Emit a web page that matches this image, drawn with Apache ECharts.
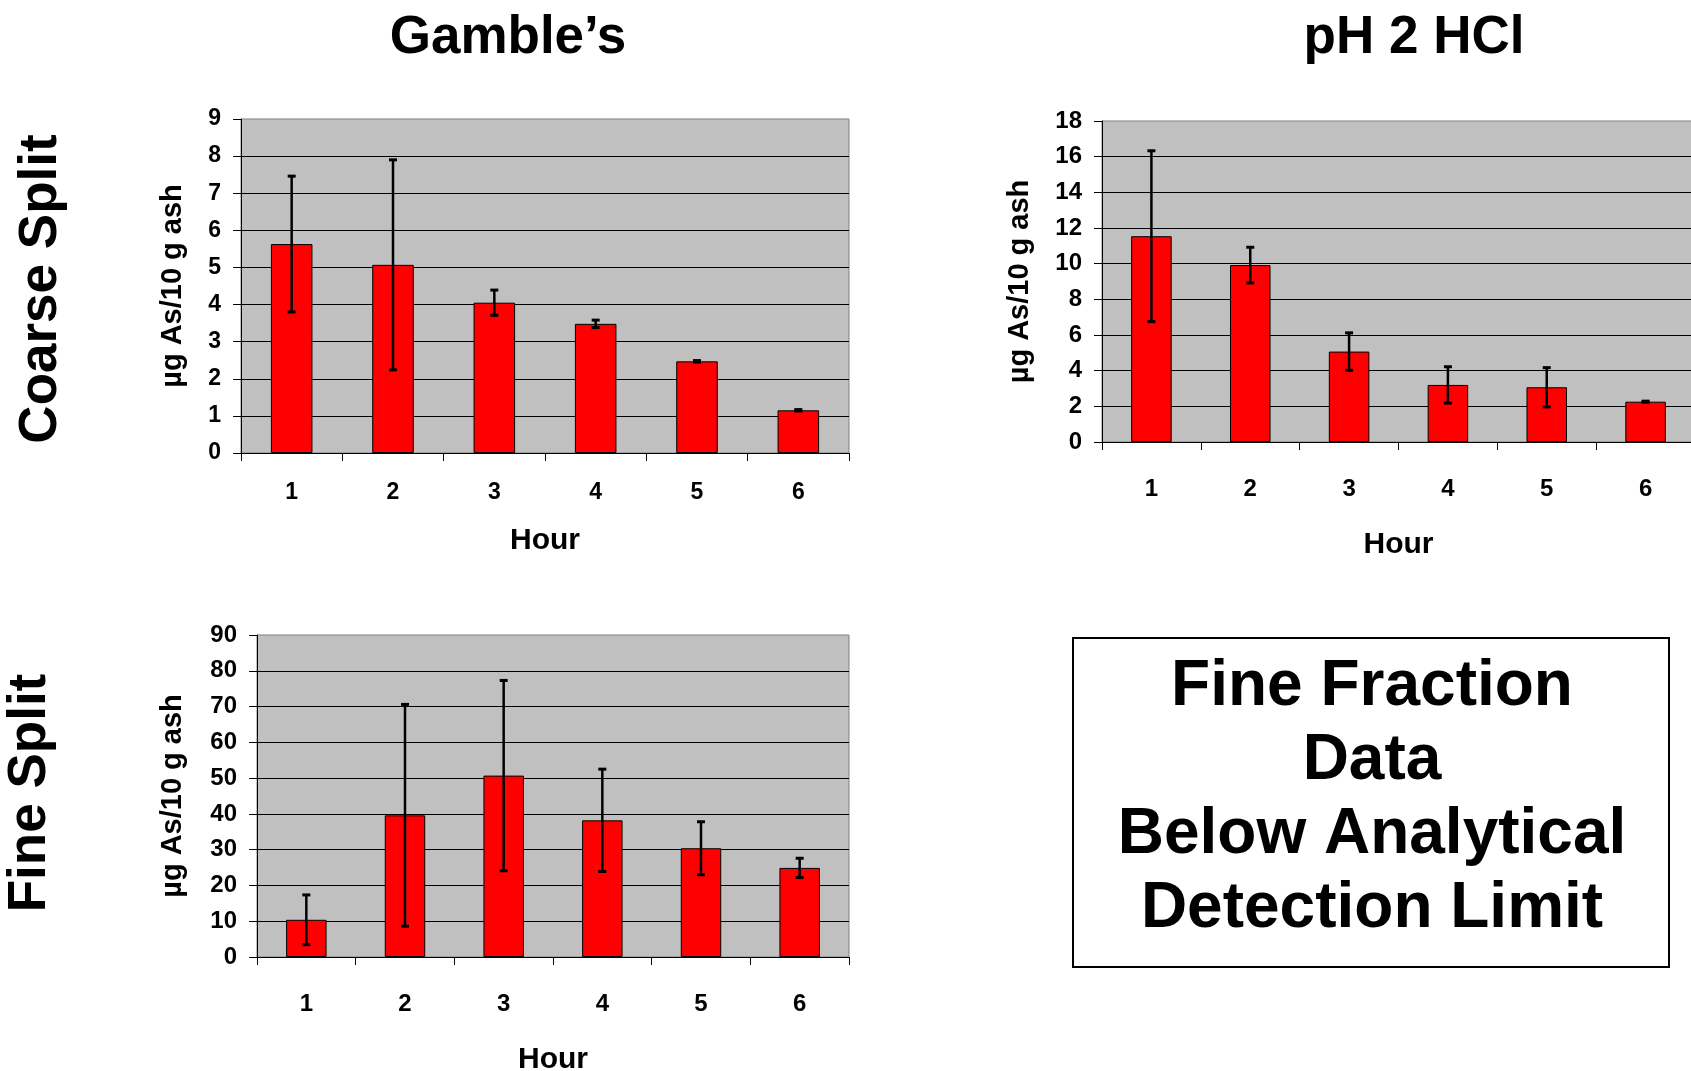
<!DOCTYPE html>
<html>
<head>
<meta charset="utf-8">
<script src="https://cdn.jsdelivr.net/npm/echarts@6/dist/echarts.min.js"></script>
<style>
html,body{margin:0;padding:0;background:#fff;}
#chart{width:1691px;height:1071px;}
</style>
</head>
<body>
<div id="chart"></div>
<script>
// ---- data ----
const hours = ['1', '2', '3', '4', '5', '6'];
const coarseGambleMean = [5.63, 5.07, 4.05, 3.48, 2.47, 1.15];
const coarseGambleErr  = [1.83, 2.83, 0.34, 0.10, 0.02, 0.02];
const coarseHclMean    = [11.54, 9.92, 5.07, 3.20, 3.07, 2.26];
const coarseHclErr     = [4.79, 1.00, 1.05, 1.02, 1.10, 0.03];
const fineGambleMean   = [10.4, 39.6, 50.7, 38.2, 30.4, 24.9];
const fineGambleErr    = [6.95, 31.0, 26.6, 14.3, 7.4, 2.7];
const yMax = [9, 18, 90];
const yStep = [1, 2, 10];
const colTitles = ['Gamble\u2019s', 'pH 2 HCl'];
const rowTitles = ['Coarse Split', 'Fine Split'];
const noteLines = ['Fine Fraction', 'Data', 'Below Analytical', 'Detection Limit'];
const yName = '\u00b5g As/10 g ash';
const xName = 'Hour';

const FONT = '"Liberation Sans", Arial, sans-serif';
const chart = echarts.init(document.getElementById('chart'), null, {renderer: 'canvas'});

const grids = [
  {left: 241, top: 119, width: 608, height: 334},
  {left: 1102, top: 121, width: 593, height: 321},
  {left: 257, top: 635, width: 592, height: 322}
];
const xLabelMargin = [28, 35, 35];
const xNameGap = [73, 88, 88];
const yNameGap = [54, 68, 70];
const tickFont = [23, 24, 24];

function errData(mean, err) {
  return mean.map((m, i) => [i, m - err[i], m + err[i]]);
}
function errRender(params, api) {
  const x = api.value(0);
  const top = api.coord([x, api.value(2)]);
  const bot = api.coord([x, api.value(1)]);
  const cap = 4;
  const st = {stroke: '#000', lineWidth: 3};
  return {
    type: 'group',
    children: [
      {type: 'line', shape: {x1: top[0], y1: top[1], x2: bot[0], y2: bot[1]}, style: {stroke: '#000', lineWidth: 2.5}},
      {type: 'line', shape: {x1: top[0] - cap, y1: top[1], x2: top[0] + cap, y2: top[1]}, style: st},
      {type: 'line', shape: {x1: bot[0] - cap, y1: bot[1], x2: bot[0] + cap, y2: bot[1]}, style: st}
    ]
  };
}

const means = [coarseGambleMean, coarseHclMean, fineGambleMean];
const errs = [coarseGambleErr, coarseHclErr, fineGambleErr];

const option = {
  animation: false,
  backgroundColor: '#fff',
  textStyle: {fontFamily: FONT},
  grid: grids.map(g => Object.assign({show: true, backgroundColor: '#c0c0c0', borderColor: '#808080', borderWidth: 1, containLabel: false, outerBoundsMode: 'none'}, g)),
  xAxis: grids.map((g, i) => ({
    type: 'category', gridIndex: i, data: hours,
    name: xName, nameLocation: 'middle', nameGap: xNameGap[i],
    nameTextStyle: {fontSize: 30, fontWeight: 'bold', color: '#000', fontFamily: FONT},
    axisLine: {lineStyle: {color: '#000', width: 1}},
    axisTick: {show: true, alignWithLabel: false, length: 8, lineStyle: {color: '#000'}},
    axisLabel: {fontSize: tickFont[i], fontWeight: 'bold', color: '#000', margin: xLabelMargin[i], fontFamily: FONT},
    splitLine: {show: false}
  })),
  yAxis: grids.map((g, i) => ({
    type: 'value', gridIndex: i, min: 0, max: yMax[i], interval: yStep[i],
    name: yName, nameLocation: 'middle', nameGap: yNameGap[i],
    nameTextStyle: {fontSize: 29, fontWeight: 'bold', color: '#000', fontFamily: FONT},
    axisLine: {show: true, lineStyle: {color: '#000', width: 1}},
    axisTick: {show: true, length: 8, lineStyle: {color: '#000'}},
    axisLabel: {fontSize: tickFont[i], fontWeight: 'bold', color: '#000', margin: 20, padding: [8, 0, 0, 0], fontFamily: FONT},
    splitLine: {show: true, showMaxLine: false, showMinLine: false, lineStyle: {color: '#000', width: 1}}
  })),
  series: [].concat(
    means.map((m, i) => ({
      type: 'bar', xAxisIndex: i, yAxisIndex: i, data: m, barWidth: '41%',
      itemStyle: {color: '#ff0000', borderColor: '#000', borderWidth: 1},
      z: 2
    })),
    means.map((m, i) => ({
      type: 'custom', xAxisIndex: i, yAxisIndex: i,
      data: errData(m, errs[i]), renderItem: errRender,
      encode: {x: 0, y: [1, 2]}, z: 5
    }))
  ),
  graphic: [
    {type: 'text', x: 508, y: 38, style: {text: colTitles[0], font: 'bold 53px ' + FONT, fill: '#000', textAlign: 'center', textVerticalAlign: 'middle'}},
    {type: 'text', x: 1414, y: 38, style: {text: colTitles[1], font: 'bold 53px ' + FONT, fill: '#000', textAlign: 'center', textVerticalAlign: 'middle'}},
    {type: 'text', x: 41, y: 289, rotation: Math.PI / 2, style: {text: rowTitles[0], font: 'bold 53px ' + FONT, fill: '#000', textAlign: 'center', textVerticalAlign: 'middle'}},
    {type: 'text', x: 30, y: 793, rotation: Math.PI / 2, style: {text: rowTitles[1], font: 'bold 53px ' + FONT, fill: '#000', textAlign: 'center', textVerticalAlign: 'middle'}},
    {type: 'rect', shape: {x: 1073, y: 638, width: 596, height: 329}, style: {fill: '#fff', stroke: '#000', lineWidth: 2}},
    {type: 'text', x: 1372, y: 798, style: {text: noteLines.join('\n'), font: 'bold 64px ' + FONT, lineHeight: 74, fill: '#000', textAlign: 'center', textVerticalAlign: 'middle'}}
  ]
};
chart.setOption(option);
</script>
</body>
</html>
